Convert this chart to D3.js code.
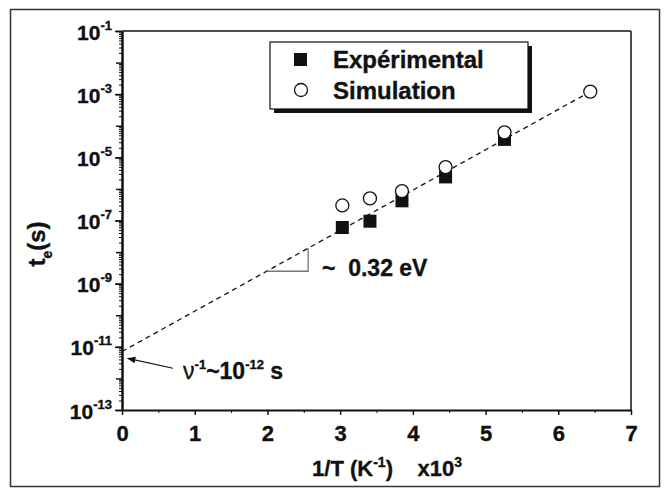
<!DOCTYPE html>
<html>
<head>
<meta charset="UTF-8">
<script src="https://d3js.org/d3.v7.min.js"></script>
<style>
  body { margin: 0; background: #fff; }
  svg text { font-family: "Liberation Sans", Arial, sans-serif; font-weight: bold; fill: #111;
             stroke: #111; stroke-width: 0.35px; white-space: pre; }
  .axis path, .axis line { stroke: #111; }
</style>
</head>
<body>
<div id="chart"></div>
<script>
// values
var xMajor = [0, 1, 2, 3, 4, 5, 6, 7];
var yLabelExp = [-1, -3, -5, -7, -9, -11, -13];

var expX = [3.03, 3.41, 3.85, 4.45, 5.26];
var expY = [6.0e-8, 9.5e-8, 4.2e-7, 2.4e-6, 3.7e-5];

var simX = [3.03, 3.41, 3.85, 4.45, 5.26, 6.44];
var simY = [3.0e-7, 5.0e-7, 8.5e-7, 4.9e-6, 6.2e-5, 1.2e-3];

var fitX = [0, 6.44];
var fitY = [7.1e-12, 1.2e-3];

var slopeX = [1.99, 2.56];           // little triangle under the fit line
var arrowFrom = [0.70, 2.1e-12];
var arrowTo = [0.08, 4.3e-12];

var legendNames = ["Expérimental", "Simulation"];

var W = 666, H = 494;
var svg = d3.select("#chart").append("svg")
  .attr("width", W).attr("height", H);

// outer frame
svg.append("rect")
  .attr("x", 10.5).attr("y", 9.5).attr("width", 649).attr("height", 477)
  .attr("fill", "none").attr("stroke", "#333").attr("stroke-width", 1.5);

var x = d3.scaleLinear().domain([0, 7]).range([122, 631]);
var y = d3.scaleLog().domain([1e-13, 1e-1]).range([410, 31]);

// fit line value at a given x (log-linear)
function fitAt(v) {
  var t = (v - fitX[0]) / (fitX[1] - fitX[0]);
  return Math.pow(10, Math.log10(fitY[0]) + t * (Math.log10(fitY[1]) - Math.log10(fitY[0])));
}

// box (top and right)
svg.append("line").attr("x1", x(0)).attr("x2", x(7)).attr("y1", y(1e-1)).attr("y2", y(1e-1))
  .attr("stroke", "#111").attr("stroke-width", 1.5);
svg.append("line").attr("x1", x(7)).attr("x2", x(7)).attr("y1", y(1e-1)).attr("y2", y(1e-13))
  .attr("stroke", "#111").attr("stroke-width", 1.5);

// x axis: half ticks then labelled integer ticks
var halfTicks = d3.range(0.5, 7, 1);
svg.append("g").attr("class", "axis")
  .attr("transform", "translate(0," + y(1e-13) + ")")
  .call(d3.axisBottom(x).tickValues(halfTicks).tickSize(3).tickFormat(""))
  .call(function(g) { g.select(".domain").remove(); });

var gx = svg.append("g").attr("class", "axis")
  .attr("transform", "translate(0," + y(1e-13) + ")")
  .call(d3.axisBottom(x).tickValues(xMajor).tickSize(5).tickSizeOuter(0).tickPadding(10).tickFormat(d3.format("d")));
gx.select(".domain").attr("stroke-width", 2);
gx.selectAll("line").attr("stroke-width", 1.5);
gx.selectAll("text").style("font-size", "22px").attr("fill", "#111");

// y axis: minor ticks, decade ticks, labelled every second decade
var minor = [];
for (var e = -13; e < -1; e++) {
  for (var m = 2; m <= 9; m++) minor.push(m * Math.pow(10, e));
}
var decades = d3.range(-13, 0).map(function(k) { return Math.pow(10, k); });

svg.append("g").attr("class", "axis")
  .attr("transform", "translate(" + x(0) + ",0)")
  .call(d3.axisLeft(y).tickValues(minor).tickSize(3).tickFormat(""))
  .call(function(g) { g.select(".domain").remove(); });

svg.append("g").attr("class", "axis")
  .attr("transform", "translate(" + x(0) + ",0)")
  .call(d3.axisLeft(y).tickValues(decades).tickSize(6).tickFormat(""))
  .call(function(g) { g.select(".domain").remove(); g.selectAll("line").attr("stroke-width", 1.5); });

var gy = svg.append("g").attr("class", "axis")
  .attr("transform", "translate(" + x(0) + ",0)")
  .call(d3.axisLeft(y).tickValues(yLabelExp.map(function(k) { return Math.pow(10, k); }))
    .tickSize(7).tickSizeOuter(0).tickFormat(""));
gy.select(".domain").attr("stroke-width", 2.5);
gy.selectAll("line").attr("stroke-width", 1.5);

gy.selectAll(".tick").each(function(d) {
  var t = d3.select(this).append("text")
    .attr("x", -10).attr("y", 8)
    .attr("text-anchor", "end")
    .style("font-size", "21px");
  t.append("tspan").text("10");
  t.append("tspan").attr("dy", -10).style("font-size", "13px")
    .text(String(Math.round(Math.log10(d))));
});

// axis titles
var xt = svg.append("text")
  .attr("x", 387).attr("y", 476)
  .attr("text-anchor", "middle")
  .style("font-size", "22px");
xt.append("tspan").text("1/T (K");
xt.append("tspan").attr("dy", -9).style("font-size", "14px").text("-1");
xt.append("tspan").attr("dy", 9).text(")    x10");
xt.append("tspan").attr("dy", -9).style("font-size", "14px").text("3");

var yt = svg.append("text")
  .attr("transform", "translate(45,244) rotate(-90)")
  .attr("text-anchor", "middle")
  .style("font-size", "24px");
yt.append("tspan").text("t");
yt.append("tspan").attr("dy", 7).style("font-size", "14px").text("e");
yt.append("tspan").attr("dy", -7).text("(s)");

// dashed fit line
svg.append("path")
  .datum(d3.zip(fitX, fitY))
  .attr("d", d3.line().x(function(d) { return x(d[0]); }).y(function(d) { return y(d[1]); }))
  .attr("fill", "none").attr("stroke", "#111").attr("stroke-width", 1.3)
  .attr("stroke-dasharray", "5,4");

// slope triangle
var tri = [[slopeX[0], fitAt(slopeX[0])], [slopeX[1], fitAt(slopeX[0])], [slopeX[1], fitAt(slopeX[1])]];
svg.append("path")
  .datum(tri)
  .attr("d", d3.line().x(function(d) { return x(d[0]); }).y(function(d) { return y(d[1]); }))
  .attr("fill", "none").attr("stroke", "#777").attr("stroke-width", 1.3);

svg.append("text")
  .attr("x", x(2.75)).attr("y", y(1.8e-9))
  .style("font-size", "23px")
  .text("~  0.32 eV");

// arrow to the intercept
svg.append("defs").append("marker")
  .attr("id", "head").attr("viewBox", "0 0 10 10")
  .attr("refX", 9).attr("refY", 5)
  .attr("markerWidth", 7).attr("markerHeight", 7)
  .attr("orient", "auto")
  .append("path").attr("d", "M0,1 L10,5 L0,9 z").attr("fill", "#111");

svg.append("line")
  .attr("x1", x(arrowFrom[0])).attr("y1", y(arrowFrom[1]))
  .attr("x2", x(arrowTo[0])).attr("y2", y(arrowTo[1]))
  .attr("stroke", "#111").attr("stroke-width", 1.2)
  .attr("marker-end", "url(#head)");

var nu = svg.append("text")
  .attr("x", x(0.84)).attr("y", y(9.5e-13))
  .style("font-size", "23px");
nu.append("tspan").style("font-weight", "normal").text("ν");
nu.append("tspan").attr("dy", -10).style("font-size", "13px").text("-1");
nu.append("tspan").attr("dy", 10).text("~10");
nu.append("tspan").attr("dy", -10).style("font-size", "13px").text("-12");
nu.append("tspan").attr("dy", 10).text(" s");

// markers
svg.append("g").selectAll("rect")
  .data(d3.zip(expX, expY))
  .join("rect")
  .attr("x", function(d) { return x(d[0]) - 6.5; })
  .attr("y", function(d) { return y(d[1]) - 6.5; })
  .attr("width", 13).attr("height", 13)
  .attr("fill", "#111");

svg.append("g").selectAll("circle")
  .data(d3.zip(simX, simY))
  .join("circle")
  .attr("cx", function(d) { return x(d[0]); })
  .attr("cy", function(d) { return y(d[1]); })
  .attr("r", 6.5)
  .attr("fill", "#fff").attr("stroke", "#111").attr("stroke-width", 1.3);

// legend with drop shadow
var lg = svg.append("g").attr("transform", "translate(270,42)");
lg.append("rect").attr("x", 4).attr("y", 4).attr("width", 258).attr("height", 67).attr("fill", "#111");
lg.append("rect").attr("width", 258).attr("height", 67)
  .attr("fill", "#fff").attr("stroke", "#111").attr("stroke-width", 1.2);
lg.append("rect").attr("x", 24).attr("y", 11).attr("width", 13).attr("height", 13).attr("fill", "#111");
lg.append("circle").attr("cx", 31).attr("cy", 48).attr("r", 6.5)
  .attr("fill", "#fff").attr("stroke", "#111").attr("stroke-width", 1.3);
lg.selectAll("text.name")
  .data(legendNames)
  .join("text")
  .attr("class", "name")
  .attr("x", 63)
  .attr("y", function(d, i) { return 26 + i * 31; })
  .style("font-size", "24px")
  .text(function(d) { return d; });
</script>
</body>
</html>
